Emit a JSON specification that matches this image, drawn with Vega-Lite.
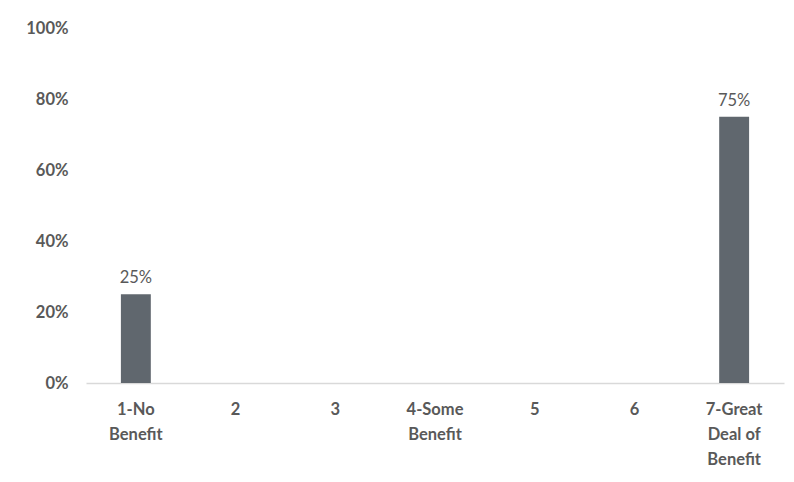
{
  "$schema": "https://vega.github.io/schema/vega-lite/v6.json",
  "autosize": "none",
  "width": 698,
  "height": 355,
  "padding": {"left": 86, "top": 28, "right": 10, "bottom": 99},
  "background": "white",
  "config": {
    "view": {"stroke": null},
    "font": "Lato"
  },
  "data": {
    "values": [
      {"cat": "1-No|Benefit", "pct": 0.25},
      {"cat": "2", "pct": 0},
      {"cat": "3", "pct": 0},
      {"cat": "4-Some|Benefit", "pct": 0},
      {"cat": "5", "pct": 0},
      {"cat": "6", "pct": 0},
      {"cat": "7-Great|Deal of|Benefit", "pct": 0.75}
    ]
  },
  "encoding": {
    "x": {
      "field": "cat",
      "type": "nominal",
      "sort": null,
      "scale": {"paddingInner": 0.7, "paddingOuter": 0.35},
      "axis": {
        "title": null,
        "labelAngle": 0,
        "labelExpr": "split(datum.value, '|')",
        "labelFont": "Lato",
        "labelFontSize": 16.5,
        "labelFontWeight": "bold",
        "labelColor": "#595959",
        "labelLineHeight": 25,
        "labelPadding": 18,
        "labelBaseline": "top",
        "ticks": false,
        "domainColor": "#d9d9d9",
        "domainWidth": 1.5,
        "grid": false
      }
    },
    "y": {
      "field": "pct",
      "type": "quantitative",
      "scale": {"domain": [0, 1]},
      "axis": {
        "title": null,
        "values": [0, 0.2, 0.4, 0.6, 0.8, 1],
        "format": ".0%",
        "labelFont": "Lato",
        "labelFontSize": 16.5,
        "labelFontWeight": "bold",
        "labelColor": "#595959",
        "labelPadding": 18,
        "domain": false,
        "ticks": false,
        "grid": false
      }
    }
  },
  "layer": [
    {
      "mark": {"type": "bar", "color": "#60676e"}
    },
    {
      "transform": [{"filter": "datum.pct > 0"}],
      "mark": {
        "type": "text",
        "baseline": "bottom",
        "dy": -8,
        "font": "Lato",
        "fontSize": 16.5,
        "color": "#595959"
      },
      "encoding": {
        "text": {"field": "pct", "type": "quantitative", "format": ".0%"}
      }
    }
  ]
}
